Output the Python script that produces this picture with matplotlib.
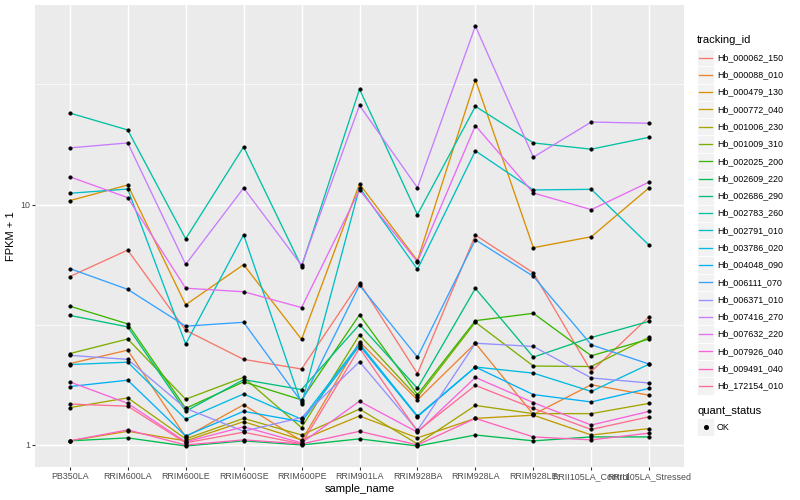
import matplotlib
matplotlib.use("Agg")
import matplotlib.pyplot as plt
from matplotlib.lines import Line2D
from matplotlib.patches import Rectangle
import numpy as np

plt.rcParams['font.family'] = ['Liberation Sans', 'DejaVu Sans']

samples = ["PB350LA", "RRIM600LA", "RRIM600LE", "RRIM600SE", "RRIM600PE", "RRIM901LA",
           "RRIM928BA", "RRIM928LA", "RRIM928LE", "RRII105LA_Control", "RRII105LA_Stressed"]

tracking_ids = ["Hb_000062_150", "Hb_000088_010", "Hb_000479_130", "Hb_000772_040",
                "Hb_001006_230", "Hb_001009_310", "Hb_002025_200", "Hb_002609_220",
                "Hb_002686_290", "Hb_002783_260", "Hb_002791_010", "Hb_003786_020",
                "Hb_004048_090", "Hb_006111_070", "Hb_006371_010", "Hb_007416_270",
                "Hb_007632_220", "Hb_007926_040", "Hb_009491_040", "Hb_172154_010"]

# ggplot default hue palette for 20 groups
colors = ["#F8766D", "#EA8331", "#D89000", "#C09B00", "#A3A500", "#7CAE00", "#39B600",
          "#00BB4E", "#00BF7D", "#00C1A3", "#00BFC4", "#00BAE0", "#00B0F6", "#35A2FF",
          "#9590FF", "#C77CFF", "#E76BF3", "#FA62DB", "#FF62BC", "#FF6C91"]

# FPKM + 1 for each gene, one value per sample
hb_000062_150 = [5.02, 6.47, 3.00, 2.27, 2.07, 4.73, 1.98, 7.47, 5.20, 2.02, 3.42]
hb_000088_010 = [2.18, 2.48, 1.08, 1.47, 1.04, 2.69, 1.54, 2.65, 1.34, 1.78, 1.61]
hb_000479_130 = [10.39, 12.07, 3.83, 5.63, 2.75, 12.18, 5.85, 33.07, 6.62, 7.35, 11.76]
hb_000772_040 = [1.04, 1.14, 1.04, 1.25, 1.05, 1.32, 1.07, 1.29, 1.33, 1.10, 1.17]
hb_001006_230 = [1.43, 1.57, 1.06, 1.29, 1.10, 1.41, 1.01, 1.46, 1.35, 1.35, 1.49]
hb_001009_310 = [2.40, 2.76, 1.55, 1.91, 1.18, 2.87, 1.58, 3.24, 2.13, 2.12, 2.81]
hb_002025_200 = [3.78, 3.19, 1.42, 1.83, 1.54, 3.48, 1.62, 3.29, 3.53, 2.35, 2.76]
hb_002609_220 = [1.04, 1.07, 0.99, 1.04, 1.00, 1.06, 0.99, 1.10, 1.04, 1.08, 1.08]
hb_002686_290 = [3.46, 3.10, 1.38, 1.87, 1.70, 3.17, 1.72, 4.48, 2.32, 2.80, 3.27]
hb_002783_260 = [24.05, 20.45, 7.21, 17.39, 5.52, 30.23, 9.09, 25.64, 18.06, 17.01, 19.07]
hb_002791_010 = [11.15, 11.61, 2.63, 7.49, 1.48, 11.76, 5.38, 16.74, 11.51, 11.58, 6.77]
hb_003786_020 = [2.16, 2.21, 1.28, 1.63, 1.28, 2.64, 1.32, 2.11, 1.99, 1.67, 2.17]
hb_004048_090 = [1.75, 1.86, 1.09, 1.38, 1.25, 2.59, 1.31, 2.11, 1.62, 1.51, 1.72]
hb_006111_070 = [5.42, 4.44, 3.12, 3.24, 1.51, 4.62, 2.32, 7.14, 5.03, 2.61, 2.17]
hb_006371_010 = [2.36, 2.27, 1.42, 1.14, 1.30, 2.22, 1.15, 2.65, 2.57, 1.90, 1.81]
hb_007416_270 = [17.22, 18.06, 5.64, 11.73, 5.59, 25.88, 11.76, 55.37, 15.76, 22.07, 21.80]
hb_007632_220 = [13.06, 10.69, 4.49, 4.34, 3.73, 11.51, 5.79, 21.33, 11.18, 9.53, 12.42]
hb_007926_040 = [1.83, 1.49, 1.03, 1.19, 1.02, 1.52, 1.13, 1.91, 1.50, 1.21, 1.38]
hb_009491_040 = [1.04, 1.155, 1.00, 1.05, 1.01, 1.14, 1.00, 1.29, 1.08, 1.05, 1.12]
hb_172154_010 = [1.48, 1.45, 1.02, 1.13, 1.01, 2.53, 1.14, 1.77, 1.42, 1.16, 1.31]

fpkm = [hb_000062_150, hb_000088_010, hb_000479_130, hb_000772_040, hb_001006_230,
        hb_001009_310, hb_002025_200, hb_002609_220, hb_002686_290, hb_002783_260,
        hb_002791_010, hb_003786_020, hb_004048_090, hb_006111_070, hb_006371_010,
        hb_007416_270, hb_007632_220, hb_007926_040, hb_009491_040, hb_172154_010]

W, H = 800, 500
fig = plt.figure(figsize=(W / 100, H / 100), dpi=100)

def fx(px):
    return px / W

def fy(py):
    return 1 - py / H

# panel position in pixels, like the ggplot output
p_left, p_right, p_top, p_bottom = 35, 684, 5, 467
ax = fig.add_axes([fx(p_left), fy(p_bottom), fx(p_right - p_left), (p_bottom - p_top) / H])
ax.set_facecolor("#EBEBEB")
for s in ax.spines.values():
    s.set_visible(False)

for vals, col in zip(fpkm, colors):
    ax.plot(samples, vals, color=col, lw=0.95, zorder=3)
for vals in fpkm:
    ax.plot(samples, vals, ls="none", marker="o", ms=2.6, mfc="black", mec="black",
            mew=0.3, zorder=4)

ax.set_yscale("log")
allv = np.log10(np.concatenate([np.array(v) for v in fpkm]))
lo, hi = allv.min(), allv.max()
pad = 0.05 * (hi - lo)
ax.set_ylim(10 ** (lo - pad), 10 ** (hi + pad))
ax.set_xlim(-0.6, len(samples) - 0.4)

ax.set_yticks([1, 10])
ax.set_yticklabels(["1", "10"])
ax.set_yticks([10 ** 0.5, 10 ** 1.5], minor=True)
ax.yaxis.set_minor_formatter(plt.NullFormatter())
ax.grid(True, which="major", color="white", lw=1.05, zorder=0)
ax.grid(True, which="minor", axis="y", color="white", lw=0.5, zorder=0)
ax.set_axisbelow(True)
ax.tick_params(which="major", length=2.0, width=0.8, color="#333333",
               labelsize=6.4, labelcolor="#4D4D4D", pad=1.5)
ax.tick_params(which="minor", length=0)

ax.set_xlabel("sample_name", fontsize=8.0, labelpad=2)
ax.set_ylabel("FPKM + 1", fontsize=8.0, labelpad=3)

# legend drawn by hand to get the ggplot key boxes
key_x0, key_w, key_h = 697, 17, 17.28
fig.text(fx(697), fy(40), "tracking_id", fontsize=8.0, va="center", ha="left")
top0 = 49
for i, (tid, col) in enumerate(zip(tracking_ids, colors)):
    y0 = top0 + i * key_h
    fig.patches.append(Rectangle((fx(key_x0), fy(y0 + key_h)), key_w / W, key_h / H,
                                 transform=fig.transFigure, facecolor="#F2F2F2",
                                 edgecolor="white", lw=0.6))
    yc = y0 + key_h / 2
    fig.lines.append(Line2D([fx(key_x0 + 2), fx(key_x0 + key_w - 2)], [fy(yc), fy(yc)],
                            transform=fig.transFigure, color=col, lw=0.95))
    fig.text(fx(717), fy(yc), tid, fontsize=6.4, va="center", ha="left")

fig.text(fx(697), fy(411), "quant_status", fontsize=8.0, va="center", ha="left")
y0 = 418.5
fig.patches.append(Rectangle((fx(key_x0), fy(y0 + key_h)), key_w / W, key_h / H,
                             transform=fig.transFigure, facecolor="#F2F2F2",
                             edgecolor="white", lw=0.6))
fig.lines.append(Line2D([fx(key_x0 + key_w / 2)], [fy(y0 + key_h / 2)],
                        transform=fig.transFigure, ls="none", marker="o", ms=2.6,
                        mfc="black", mec="black"))
fig.text(fx(717), fy(y0 + key_h / 2), "OK", fontsize=6.4, va="center", ha="left")

fig.savefig("out.png", dpi=100)
